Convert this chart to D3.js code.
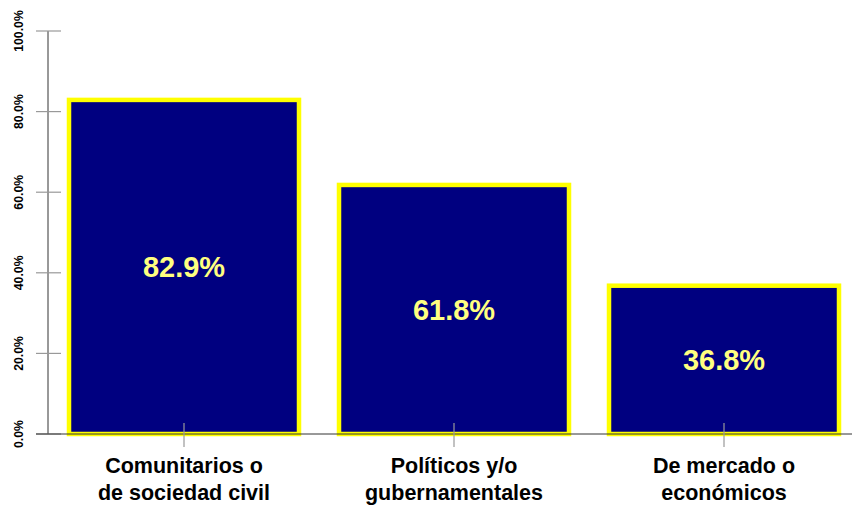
<!DOCTYPE html>
<html>
<head>
<meta charset="utf-8">
<script src="https://cdn.jsdelivr.net/npm/d3@7"></script>
<style>
  html, body { margin: 0; padding: 0; background: #fff; }
  svg { display: block; font-family: "Liberation Sans", Arial, sans-serif; }
</style>
</head>
<body>
<svg id="chart" width="852" height="506"></svg>
<script>
const categories = [
  ["Comunitarios o", "de sociedad civil"],
  ["Políticos y/o", "gubernamentales"],
  ["De mercado o", "económicos"]
];
const values = [0.829, 0.618, 0.368];
const valueLabels = ["82.9%", "61.8%", "36.8%"];
const yTicks = [0, 0.2, 0.4, 0.6, 0.8, 1.0];
const yTickLabels = ["0.0%", "20.0%", "40.0%", "60.0%", "80.0%", "100.0%"];

const svg = d3.select("#chart");
const keys = categories.map((c, i) => i);

const x = d3.scaleBand()
  .domain(keys)
  .range([49, 859])
  .paddingInner(40 / 270)
  .paddingOuter(20 / 270);

const y = d3.scaleLinear().domain([0, 1]).range([434, 31]);

// Y axis
const yAxisX = 48;
svg.append("line")
  .attr("x1", yAxisX).attr("x2", yAxisX)
  .attr("y1", y(1)).attr("y2", y(0))
  .attr("stroke", "#333").attr("stroke-width", 1);
yTicks.forEach((t, i) => {
  svg.append("line")
    .attr("x1", 36).attr("x2", 61)
    .attr("y1", y(t)).attr("y2", y(t))
    .attr("stroke", "#999").attr("stroke-width", 1.2);
  svg.append("text")
    .attr("transform", `translate(23,${y(t)}) rotate(-90)`)
    .attr("text-anchor", "middle")
    .attr("font-size", 12.3)
    .attr("font-weight", "bold")
    .attr("fill", "#000")
    .text(yTickLabels[i]);
});

// Bars
svg.selectAll("rect.bar")
  .data(values)
  .join("rect")
  .attr("class", "bar")
  .attr("x", (d, i) => x(i))
  .attr("width", x.bandwidth())
  .attr("y", d => y(d))
  .attr("height", d => y(0) - y(d))
  .attr("fill", "#000080")
  .attr("stroke", "#FFFF00")
  .attr("stroke-width", 4.5);

// X axis line
svg.append("line")
  .attr("x1", 36).attr("x2", 852)
  .attr("y1", y(0)).attr("y2", y(0))
  .attr("stroke", "#333").attr("stroke-width", 1);

// X ticks
keys.forEach(i => {
  const cx = x(i) + x.bandwidth() / 2;
  svg.append("line")
    .attr("x1", cx).attr("x2", cx)
    .attr("y1", 423).attr("y2", 447)
    .attr("stroke", "#999").attr("stroke-width", 1.2);
});

// Value labels
svg.selectAll("text.val")
  .data(values)
  .join("text")
  .attr("class", "val")
  .attr("x", (d, i) => x(i) + x.bandwidth() / 2)
  .attr("y", d => (y(d) + y(0)) / 2)
  .attr("dy", "0.36em")
  .attr("text-anchor", "middle")
  .attr("font-size", 29)
  .attr("font-weight", "bold")
  .attr("fill", "#FFFF80")
  .text((d, i) => valueLabels[i]);

// Category labels
categories.forEach((lines, i) => {
  const cx = x(i) + x.bandwidth() / 2;
  const t = svg.append("text")
    .attr("text-anchor", "middle")
    .attr("font-size", 21.5)
    .attr("font-weight", "bold")
    .attr("fill", "#000");
  lines.forEach((ln, j) => {
    t.append("tspan").attr("x", cx).attr("y", 473 + j * 27).text(ln);
  });
});
</script>
</body>
</html>
